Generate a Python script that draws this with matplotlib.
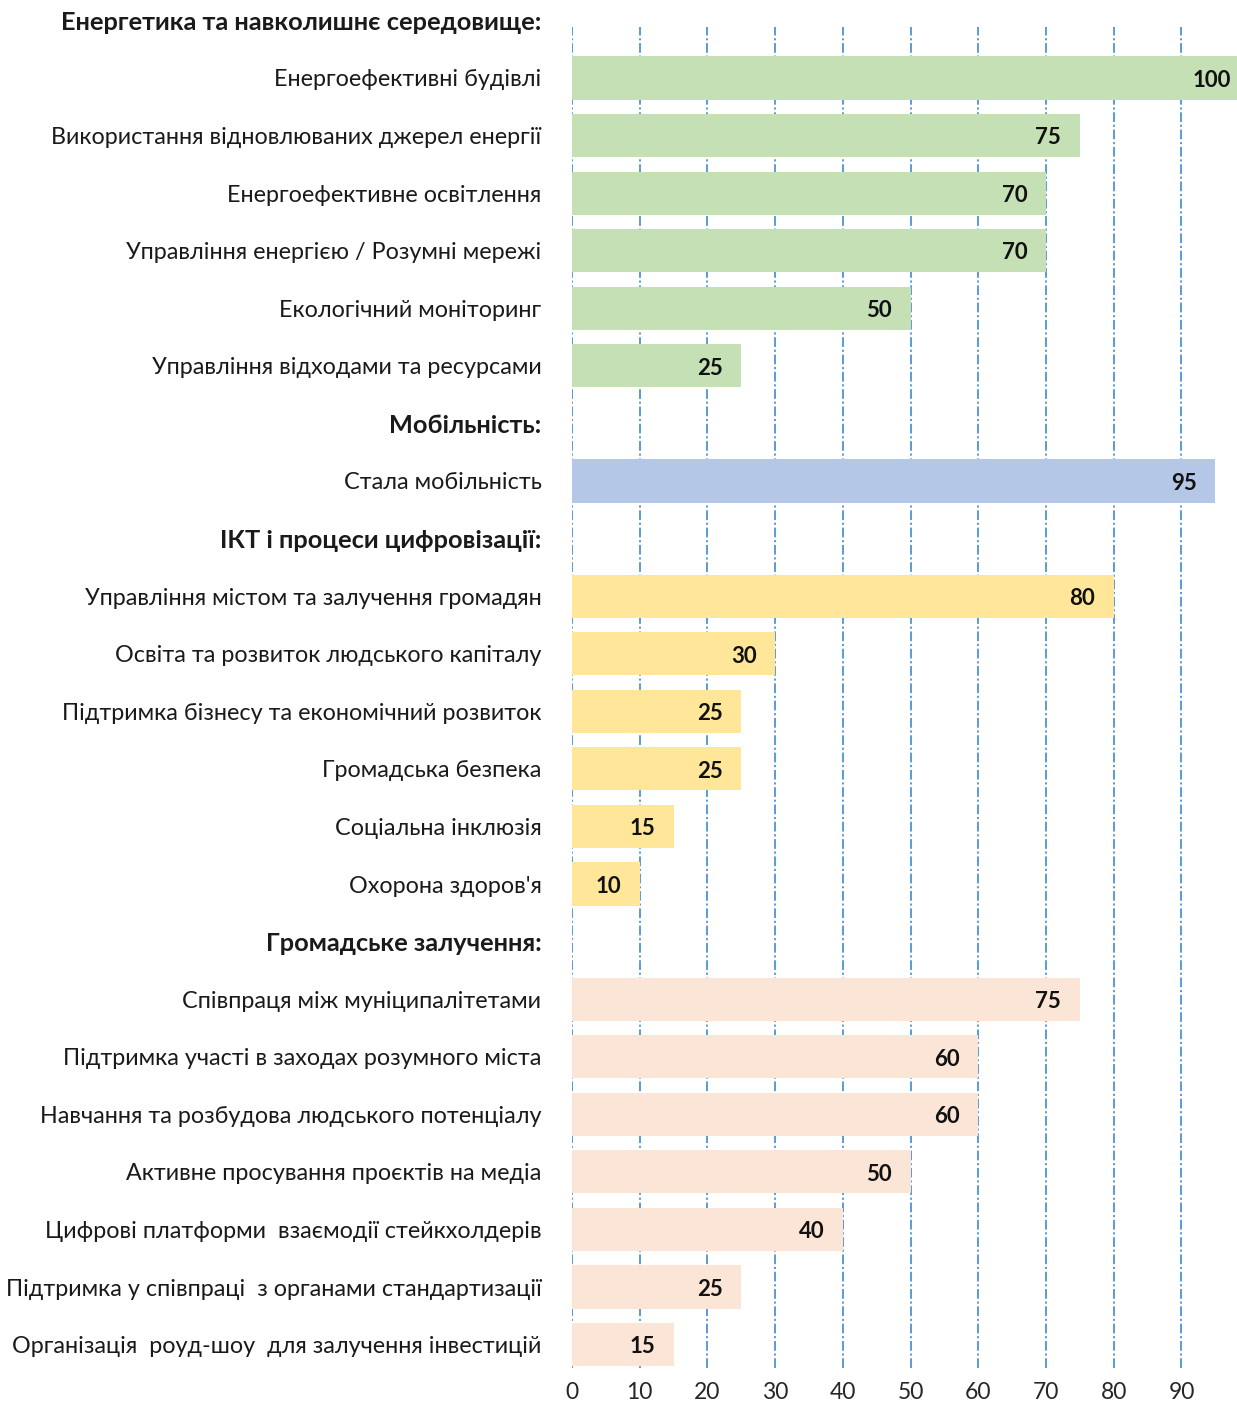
import matplotlib
matplotlib.use("Agg")
import matplotlib.pyplot as plt

plt.rcParams['font.family'] = ['Lato', 'DejaVu Sans']

# ---- data ----
labels = [
    "Енергетика та навколишнє середовище:",
    "Енергоефективні будівлі",
    "Використання відновлюваних джерел енергії",
    "Енергоефективне освітлення",
    "Управління енергією / Розумні мережі",
    "Екологічний моніторинг",
    "Управління відходами та ресурсами",
    "Мобільність:",
    "Стала мобільність",
    "ІКТ і процеси цифровізації:",
    "Управління містом та залучення громадян",
    "Освіта та розвиток людського капіталу",
    "Підтримка бізнесу та економічний розвиток",
    "Громадська безпека",
    "Соціальна інклюзія",
    "Охорона здоров'я",
    "Громадське залучення:",
    "Співпраця між муніципалітетами",
    "Підтримка участі в заходах розумного міста",
    "Навчання та розбудова людського потенціалу",
    "Активне просування проєктів на медіа",
    "Цифрові платформи  взаємодії стейкхолдерів",
    "Підтримка у співпраці  з органами стандартизації",
    "Організація  роуд-шоу  для залучення інвестицій",
]
values = [None, 100, 75, 70, 70, 50, 25,
          None, 95,
          None, 80, 30, 25, 25, 15, 10,
          None, 75, 60, 60, 50, 40, 25, 15]
groups = ["energy"] * 7 + ["mobility"] * 2 + ["ict"] * 7 + ["civic"] * 8
group_colors = {"energy": "#C5E0B4", "mobility": "#B4C7E7",
                "ict": "#FFE699", "civic": "#FBE5D6"}
x_ticks = [0, 10, 20, 30, 40, 50, 60, 70, 80, 90]

W, H = 1237, 1403
fig = plt.figure(figsize=(W / 100, H / 100), dpi=100)
ax_top_px, ax_bot_px = -8.4, 1373.4
ax = fig.add_axes([572 / W, (H - ax_bot_px) / H, (W - 572) / W,
                   (ax_bot_px - ax_top_px) / H])

rows = list(range(len(labels)))
ax.set_xlim(0, 98.2)
ax.set_ylim(len(labels) - 0.5, -0.5)

# gridlines (dash-dot blue)
for xt in x_ticks:
    ax.axvline(xt, ymin=0.0039, ymax=0.9744, color="#5B9BD5", lw=1.4,
               linestyle=(0, (5, 1.4, 1.1, 1.4)), zorder=1)

for r, v, g in zip(rows, values, groups):
    if v is None:
        continue
    ax.barh(r, v, height=0.75, color=group_colors[g], zorder=2,
            clip_on=True)
    ax.annotate(str(v), xy=(v, r + 0.04), xytext=(-13.5, 0),
                textcoords="offset points", ha="right", va="center",
                fontsize=16, fontweight="bold", color="#111111", zorder=3,
                annotation_clip=False)

ax.set_yticks(rows)
ax.set_yticklabels(labels, fontsize=16.8, color="#1a1a1a")
for lab, v in zip(ax.get_yticklabels(), values):
    if v is None:
        lab.set_fontweight("bold")
        lab.set_fontsize(18.3)
ax.tick_params(axis="y", length=0, pad=22)

ax.set_xticks(x_ticks)
ax.set_xticklabels([str(t) for t in x_ticks], fontsize=16.5, color="#262626")
ax.tick_params(axis="x", length=0, pad=6)

for s in ax.spines.values():
    s.set_visible(False)

fig.savefig("out.png", dpi=100)
